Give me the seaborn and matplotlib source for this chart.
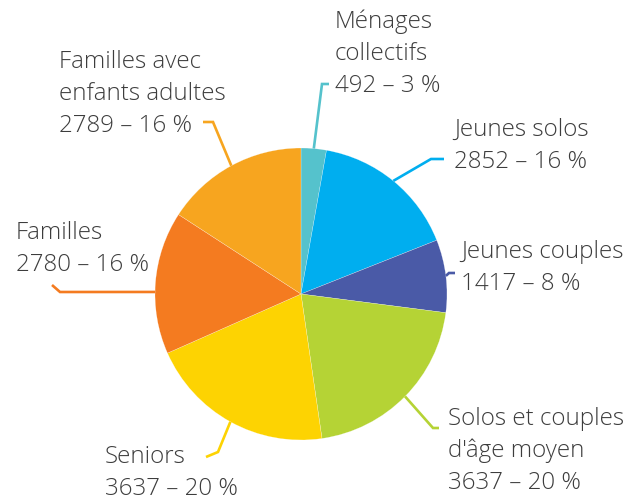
import numpy as np
import matplotlib
matplotlib.use("Agg")
import matplotlib.pyplot as plt
import seaborn as sns

# ---- data ----
categories = ["Ménages collectifs", "Jeunes solos", "Jeunes couples",
              "Solos et couples d'âge moyen", "Seniors", "Familles",
              "Familles avec enfants adultes"]
values = [492, 2852, 1417, 3637, 3637, 2780, 2789]
percents = [3, 16, 8, 20, 20, 16, 16]
label_lines = [["Ménages", "collectifs"], ["Jeunes solos"], ["Jeunes couples"],
               ["Solos et couples", "d'âge moyen"], ["Seniors"], ["Familles"],
               ["Familles avec", "enfants adultes"]]
colors = ["#55C2CC", "#00AEEF", "#4A5AA7", "#B5D335", "#FDD302", "#F47B20", "#F7A51F"]

sns.set_theme(style="white")
plt.rcParams["font.family"] = ["Open Sans", "DejaVu Sans"]

W, H = 632, 500
fig = plt.figure(figsize=(W / 100, H / 100), dpi=100)
ax = fig.add_axes([0, 0, 1, 1])

cx, cy, R = 301, H - 294, 146
wedges, _ = ax.pie(values, colors=sns.color_palette(colors), startangle=90,
                   counterclock=False, radius=R, center=(cx, cy),
                   wedgeprops=dict(linewidth=0.25, edgecolor=(1, 1, 1, 0.6)), frame=True)
ax.set_xlim(0, W)
ax.set_ylim(0, H)
ax.axis("off")

# layout (pixel positions, y from top): text x, first baseline, leader elbow, leader end, anchor angle override
layout = [
    dict(tx=335, ty=28, elbow=(322, 84), end=(329, 84), ang=None),
    dict(tx=454, ty=136, elbow=(431, 159), end=(444, 159), ang=None),
    dict(tx=461, ty=258, elbow=(449, 273), end=(455, 273), ang=None),
    dict(tx=448, ty=425, elbow=(433, 428), end=(439, 428), ang=None),
    dict(tx=105, ty=463, elbow=(218, 452), end=(206, 457), ang=None),
    dict(tx=16, ty=239, elbow=(60, 292), end=(52, 285), ang=179.2),
    dict(tx=59, ty=68, elbow=(213, 122), end=(203, 122), ang=None),
]

txtcol = "#3d3d3d"
lh = 32
for w, v, p, lines, lay, col in zip(wedges, values, percents, label_lines, layout, colors):
    ang = lay["ang"] if lay["ang"] is not None else (w.theta1 + w.theta2) / 2
    sx = cx + R * np.cos(np.radians(ang))
    sy = cy + R * np.sin(np.radians(ang))
    ex, ey = lay["elbow"]
    nx, ny = lay["end"]
    ax.plot([sx, ex, nx], [sy, H - ey, H - ny], color=col, lw=1.9,
            solid_joinstyle="miter", solid_capstyle="butt", zorder=1)
    all_lines = lines + [f"{v} – {p} %"]
    for i, t in enumerate(all_lines):
        ax.text(lay["tx"], H - (lay["ty"] + i * lh), t, fontsize=17.4,
                fontweight="light", color=txtcol, ha="left", va="baseline")

fig.savefig("out.png", dpi=100)
